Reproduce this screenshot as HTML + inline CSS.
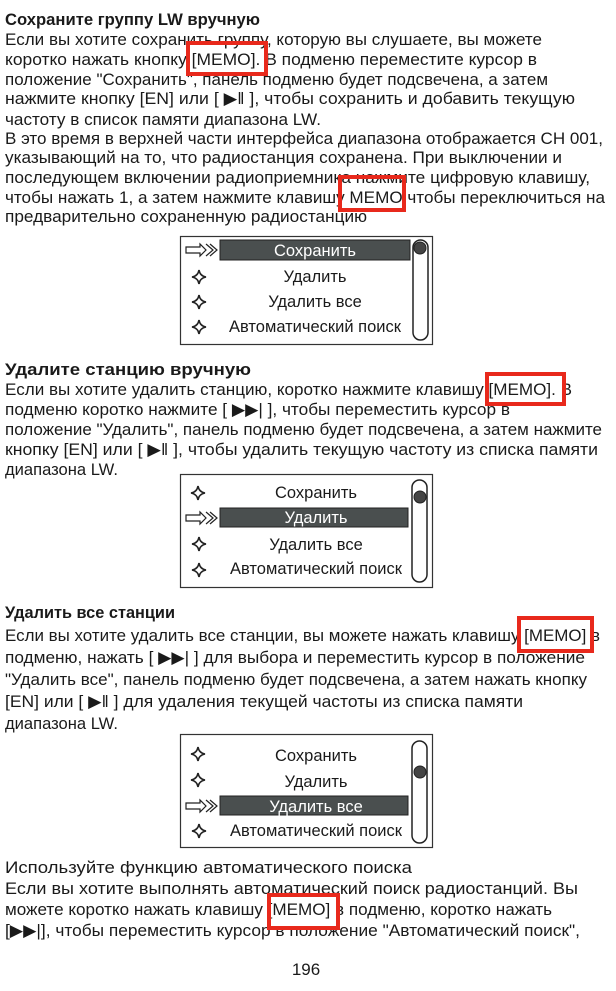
<!DOCTYPE html>
<html><head><meta charset="utf-8"><style>
html,body{margin:0;padding:0;background:#fff;}
svg{display:block;}
text{font-family:"Liberation Sans","DejaVu Sans",sans-serif;fill:#1a1a1a;}
.t{font-size:17px;}
.b{font-size:16.5px;font-weight:bold;}
.m{font-size:16.5px;}
</style></head><body>
<svg width="616" height="991" viewBox="0 0 616 991" xmlns="http://www.w3.org/2000/svg">
<rect width="616" height="991" fill="#fff"/>
<!-- Section 1 -->
<text class="b" x="5" y="25" textLength="255" lengthAdjust="spacingAndGlyphs">Сохраните группу LW вручную</text>
<text class="t" x="5" y="45" textLength="537" lengthAdjust="spacingAndGlyphs">Если вы хотите сохранить группу, которую вы слушаете, вы можете</text>
<text class="t" x="5" y="65" textLength="532" lengthAdjust="spacingAndGlyphs">коротко нажать кнопку [MEMO]. В подменю переместите курсор в</text>
<text class="t" x="5" y="85" textLength="543" lengthAdjust="spacingAndGlyphs">положение "Сохранить", панель подменю будет подсвечена, а затем</text>
<text class="t" x="5" y="104" textLength="570" lengthAdjust="spacingAndGlyphs">нажмите кнопку [EN] или [   ▶‖ ], чтобы сохранить и добавить текущую</text>
<text class="t" x="5" y="125" textLength="316" lengthAdjust="spacingAndGlyphs">частоту в список памяти диапазона LW.</text>
<text class="t" x="5" y="144" textLength="598" lengthAdjust="spacingAndGlyphs">В это время в верхней части интерфейса диапазона отображается CH 001,</text>
<text class="t" x="5" y="163" textLength="557" lengthAdjust="spacingAndGlyphs">указывающий на то, что радиостанция сохранена. При выключении и</text>
<text class="t" x="5" y="183" textLength="585" lengthAdjust="spacingAndGlyphs">последующем включении радиоприемника нажмите цифровую клавишу,</text>
<text class="t" x="5" y="203" textLength="600" lengthAdjust="spacingAndGlyphs">чтобы нажать 1, а затем нажмите клавишу MEMO чтобы переключиться на</text>
<text class="t" x="5" y="222" textLength="362" lengthAdjust="spacingAndGlyphs">предварительно сохраненную радиостанцию</text>
<rect x="188" y="43" width="78" height="31" fill="none" stroke="#e8291c" stroke-width="4"/>
<rect x="340" y="177" width="64" height="33" fill="none" stroke="#e8291c" stroke-width="4"/>

<!-- Menu 1 -->
<g>
<rect x="180.5" y="236.5" width="252" height="108" fill="#fff" stroke="#333" stroke-width="1.2"/>
<rect x="220" y="240" width="190" height="20" fill="#4a4f4f" stroke="#222"/>
<rect x="413" y="240" width="15" height="100" rx="7.5" fill="none" stroke="#222" stroke-width="1.5"/>
<circle cx="420" cy="248" r="6" fill="#444" stroke="#222"/>
<text class="m" x="315" y="256" text-anchor="middle" style="fill:#fff">Сохранить</text>
<text class="m" x="315" y="282" text-anchor="middle">Удалить</text>
<text class="m" x="315" y="307" text-anchor="middle">Удалить все</text>
<text class="m" x="315" y="332" text-anchor="middle">Автоматический поиск</text>
<path d="M186 247h14v-3l6 6-6 6v-3h-14z" fill="none" stroke="#222" stroke-width="1.2"/>
<path d="M206 244l7 6-7 6M210 244l7 6-7 6" fill="none" stroke="#222" stroke-width="1.2"/>
<path d="M199 270 Q200 276 206 277 Q200 278 199 284 Q198 278 192 277 Q198 276 199 270z" fill="none" stroke="#222" stroke-width="1.6"/>
<path d="M199 295 Q200 301 206 302 Q200 303 199 309 Q198 303 192 302 Q198 301 199 295z" fill="none" stroke="#222" stroke-width="1.6"/>
<path d="M199 320 Q200 326 206 327 Q200 328 199 334 Q198 328 192 327 Q198 326 199 320z" fill="none" stroke="#222" stroke-width="1.6"/>
</g>

<!-- Section 2 -->
<text class="b" x="5" y="375" textLength="246" lengthAdjust="spacingAndGlyphs">Удалите станцию вручную</text>
<text class="t" x="5" y="395" textLength="567" lengthAdjust="spacingAndGlyphs">Если вы хотите удалить станцию, коротко нажмите клавишу [MEMO]. В</text>
<text class="t" x="5" y="415" textLength="505" lengthAdjust="spacingAndGlyphs">подменю коротко нажмите [ ▶▶| ], чтобы переместить курсор в</text>
<text class="t" x="5" y="435" textLength="597" lengthAdjust="spacingAndGlyphs">положение "Удалить", панель подменю будет подсвечена, а затем нажмите</text>
<text class="t" x="5" y="455" textLength="593" lengthAdjust="spacingAndGlyphs">кнопку [EN] или [   ▶‖ ], чтобы удалить текущую частоту из списка памяти</text>
<text class="t" x="5" y="475" textLength="113" lengthAdjust="spacingAndGlyphs">диапазона LW.</text>
<rect x="487" y="374" width="77" height="30" fill="none" stroke="#e8291c" stroke-width="4"/>

<!-- Menu 2 -->
<g>
<rect x="180.5" y="474.5" width="252" height="113" fill="#fff" stroke="#333" stroke-width="1.2"/>
<rect x="220" y="508" width="188" height="19" fill="#4a4f4f" stroke="#222"/>
<rect x="412" y="480" width="15" height="102" rx="7.5" fill="none" stroke="#222" stroke-width="1.5"/>
<circle cx="420" cy="497" r="6" fill="#444" stroke="#222"/>
<text class="m" x="316" y="498" text-anchor="middle">Сохранить</text>
<text class="m" x="316" y="523" text-anchor="middle" style="fill:#fff">Удалить</text>
<text class="m" x="316" y="550" text-anchor="middle">Удалить все</text>
<text class="m" x="316" y="574" text-anchor="middle">Автоматический поиск</text>
<path d="M186 515h14v-3l6 6-6 6v-3h-14z" fill="none" stroke="#222" stroke-width="1.2"/>
<path d="M206 512l7 6-7 6M210 512l7 6-7 6" fill="none" stroke="#222" stroke-width="1.2"/>
<path d="M198 486 Q199 492 205 493 Q199 494 198 500 Q197 494 191 493 Q197 492 198 486z" fill="none" stroke="#222" stroke-width="1.6"/>
<path d="M199 537 Q200 543 206 544 Q200 545 199 551 Q198 545 192 544 Q198 543 199 537z" fill="none" stroke="#222" stroke-width="1.6"/>
<path d="M199 563 Q200 569 206 570 Q200 571 199 577 Q198 571 192 570 Q198 569 199 563z" fill="none" stroke="#222" stroke-width="1.6"/>
</g>

<!-- Section 3 -->
<text class="b" x="5" y="618" textLength="170" lengthAdjust="spacingAndGlyphs">Удалить все станции</text>
<text class="t" x="5" y="641" textLength="595" lengthAdjust="spacingAndGlyphs">Если вы хотите удалить все станции, вы можете нажать клавишу [MEMO] в</text>
<text class="t" x="5" y="663" textLength="580" lengthAdjust="spacingAndGlyphs">подменю, нажать [ ▶▶| ] для выбора и переместить курсор в положение</text>
<text class="t" x="5" y="685" textLength="582" lengthAdjust="spacingAndGlyphs">"Удалить все", панель подменю будет подсвечена, а затем нажать кнопку</text>
<text class="t" x="5" y="707" textLength="518" lengthAdjust="spacingAndGlyphs">[EN] или [   ▶‖ ] для удаления текущей частоты из списка памяти</text>
<text class="t" x="5" y="729" textLength="113" lengthAdjust="spacingAndGlyphs">диапазона LW.</text>
<rect x="519" y="618" width="73" height="33" fill="none" stroke="#e8291c" stroke-width="4"/>

<!-- Menu 3 -->
<g>
<rect x="180.5" y="734.5" width="252" height="113" fill="#fff" stroke="#333" stroke-width="1.2"/>
<rect x="220" y="796" width="188" height="19" fill="#4a4f4f" stroke="#222"/>
<rect x="412" y="741" width="15" height="102" rx="7.5" fill="none" stroke="#222" stroke-width="1.5"/>
<circle cx="420" cy="772" r="6" fill="#444" stroke="#222"/>
<text class="m" x="316" y="761" text-anchor="middle">Сохранить</text>
<text class="m" x="316" y="787" text-anchor="middle">Удалить</text>
<text class="m" x="316" y="812" text-anchor="middle" style="fill:#fff">Удалить все</text>
<text class="m" x="316" y="836" text-anchor="middle">Автоматический поиск</text>
<path d="M186 803h14v-3l6 6-6 6v-3h-14z" fill="none" stroke="#222" stroke-width="1.2"/>
<path d="M206 800l7 6-7 6M210 800l7 6-7 6" fill="none" stroke="#222" stroke-width="1.2"/>
<path d="M198 747 Q199 753 205 754 Q199 755 198 761 Q197 755 191 754 Q197 753 198 747z" fill="none" stroke="#222" stroke-width="1.6"/>
<path d="M198 773 Q199 779 205 780 Q199 781 198 787 Q197 781 191 780 Q197 779 198 773z" fill="none" stroke="#222" stroke-width="1.6"/>
<path d="M199 824 Q200 830 206 831 Q200 832 199 838 Q198 832 192 831 Q198 830 199 824z" fill="none" stroke="#222" stroke-width="1.6"/>
</g>

<!-- Section 4 -->
<text class="t" x="5" y="873" textLength="407" lengthAdjust="spacingAndGlyphs">Используйте функцию автоматического поиска</text>
<text class="t" x="5" y="894" textLength="573" lengthAdjust="spacingAndGlyphs">Если вы хотите выполнять автоматический поиск радиостанций. Вы</text>
<text class="t" x="5" y="915" textLength="547" lengthAdjust="spacingAndGlyphs">можете коротко нажать клавишу [MEMO] в подменю, коротко нажать</text>
<text class="t" x="5" y="936" textLength="575" lengthAdjust="spacingAndGlyphs">[▶▶|], чтобы переместить курсор в положение "Автоматический поиск",</text>
<rect x="269" y="895" width="69" height="33" fill="none" stroke="#e8291c" stroke-width="4"/>

<text class="t" x="306" y="975" text-anchor="middle">196</text>
</svg>
</body></html>
